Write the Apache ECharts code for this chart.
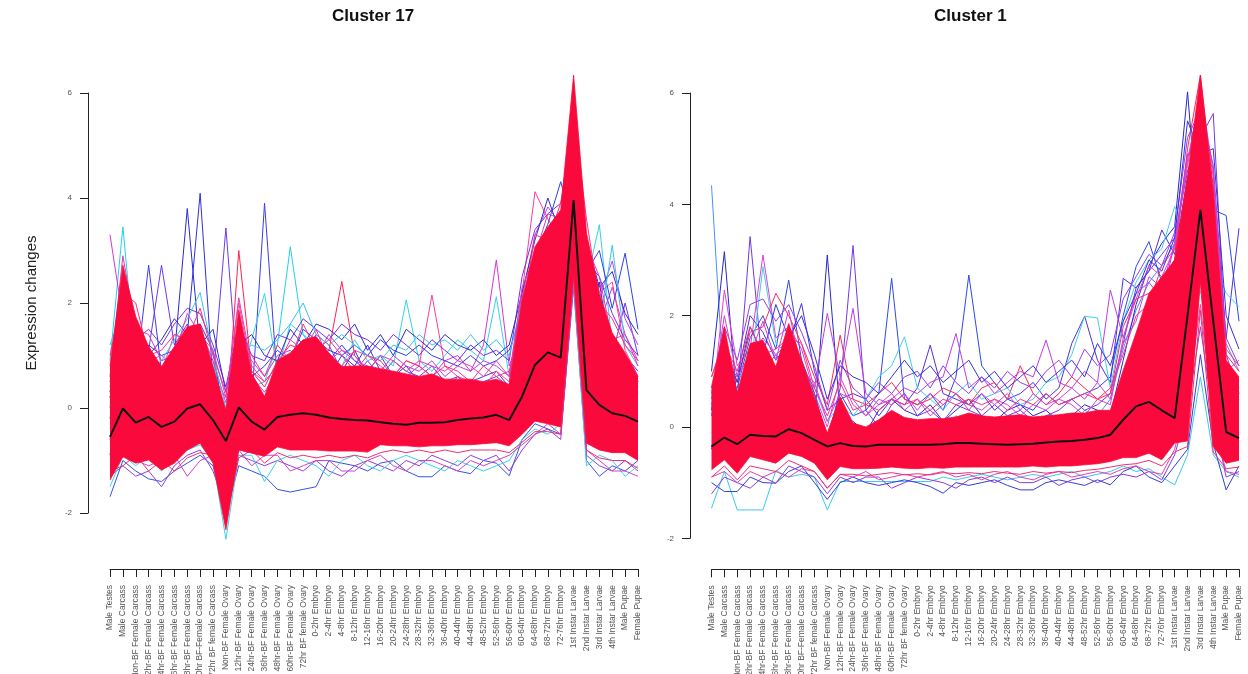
<!DOCTYPE html>
<html>
<head>
<meta charset="utf-8">
<title>Cluster expression profiles</title>
<script src="https://cdn.jsdelivr.net/npm/echarts@6/dist/echarts.min.js"></script>
<style>
  html, body { margin: 0; padding: 0; background: #ffffff; }
  #chart { width: 1248px; height: 674px; }
</style>
</head>
<body>
<div id="chart"></div>
<script>
// ---- developmental stages (x categories) ----
const stageLabels = [
  'Male Testes', 'Male Carcass',
  'Non-BF Female Carcass', '12hr-BF Female Carcass', '24hr-BF Female Carcass', '36hr-BF Female Carcass',
  '48hr-BF Female Carcass', '60hr BF-Female Carcass', '72hr BF female Carcass',
  'Non-BF Female Ovary', '12hr-BF Female Ovary', '24hr-BF Female Ovary', '36hr-BF Female Ovary',
  '48hr-BF Female Ovary', '60hr-BF Female Ovary', '72hr BF female Ovary',
  '0-2hr Embryo', '2-4hr Embryo', '4-8hr Embryo', '8-12hr Embryo', '12-16hr Embryo', '16-20hr Embryo',
  '20-24hr Embryo', '24-28hr Embryo', '28-32hr Embryo', '32-36hr Embryo', '36-40hr Embryo',
  '40-44hr Embryo', '44-48hr Embryo', '48-52hr Embryo', '52-56hr Embryo', '56-60hr Embryo',
  '60-64hr Embryo', '64-68hr Embryo', '68-72hr Embryo', '72-76hr Embryo',
  '1st Instar Larvae', '2nd Instar Larvae', '3rd Instar Larvae', '4th Instar Larvae',
  'Male Pupae', 'Female Pupae'
];
const panelTitles = ['Cluster 17', 'Cluster 1'];
const yAxisTitle = 'Expression changes';
const yTickMin = -2, yTickMax = 6, yTickStep = 2;

// ---- Cluster 17 ----
const c17Mean = [
  -0.55, -0.01, -0.28, -0.17, -0.36, -0.26, -0.01, 0.07, -0.23, -0.63,
  0.01, -0.26, -0.41, -0.17, -0.13, -0.10, -0.13, -0.18, -0.21, -0.23,
  -0.24, -0.27, -0.30, -0.32, -0.28, -0.28, -0.27, -0.23, -0.20, -0.18,
  -0.13, -0.23, 0.22, 0.82, 1.06, 0.96, 3.96, 0.34, 0.06, -0.10,
  -0.15, -0.26
];
// upper / lower edge of the dense core of high-membership genes
const c17CoreHigh = [
  0.80, 2.72, 1.74, 1.17, 0.79, 1.17, 1.55, 1.60, 0.79, -0.04,
  1.87, 0.66, 0.22, 0.91, 1.05, 1.30, 1.36, 1.05, 0.79, 0.80,
  0.80, 0.75, 0.70, 0.65, 0.60, 0.65, 0.55, 0.55, 0.55, 0.50,
  0.55, 0.45, 2.06, 3.07, 3.45, 3.77, 6.34, 3.33, 2.18, 1.43,
  1.05, 0.60
];
const c17CoreLow = [
  -1.37, -0.93, -1.05, -0.99, -1.18, -1.05, -0.80, -0.67, -1.05, -2.32,
  -0.80, -0.86, -0.92, -0.74, -0.80, -0.80, -0.80, -0.82, -0.82, -0.82,
  -0.84, -0.70, -0.72, -0.72, -0.74, -0.72, -0.72, -0.70, -0.70, -0.68,
  -0.66, -0.72, -0.50, -0.25, -0.30, -0.36, 2.57, -0.67, -0.80, -0.85,
  -0.85, -1.00
];
// individual genes with lower membership
const c17GeneM = [
  -1.69, -1.00, -1.20, -1.35, -1.40, -1.20, -1.05, -0.90, -1.10, -2.00,
  -1.10, -1.20, -1.30, -1.55, -1.60, -1.55, -1.50, -1.00, -1.05, -1.10,
  -1.20, -1.05, -1.00, -1.20, -1.31, -1.31, -1.10, -1.20, -1.25, -1.00,
  -1.05, -1.29, -0.60, -0.30, -0.40, -0.50, 2.30, -1.00, -1.30, -1.10,
  -1.20, -1.00
];
const c17GeneN = [
  -1.30, -1.10, -1.30, -1.20, -1.50, -1.10, -0.90, -0.80, -1.20, -1.90,
  -0.90, -1.00, -1.10, -1.00, -1.10, -1.20, -1.00, -1.20, -1.30, -1.10,
  -1.00, -1.10, -1.20, -1.00, -1.10, -0.90, -1.00, -1.10, -0.90, -1.00,
  -0.90, -1.20, -0.80, -0.50, -0.40, -0.60, 2.50, -0.90, -1.10, -1.20,
  -1.00, -1.20
];
const c17GeneO = [
  -1.50, -0.90, -1.10, -0.90, -1.20, -1.00, -0.80, -0.70, -1.00, -2.50,
  -0.90, -0.90, -1.40, -1.00, -0.90, -1.00, -1.10, -1.30, -1.00, -0.90,
  -1.10, -1.20, -1.00, -0.90, -1.00, -1.10, -1.20, -1.00, -1.10, -1.20,
  -1.10, -1.00, -0.60, -0.40, -0.50, -0.30, 2.40, -1.10, -0.90, -1.00,
  -1.30, -1.10
];
const c17GeneP = [
  -1.10, -0.80, -1.00, -1.10, -1.00, -0.90, -1.30, -1.00, -0.90, -1.60,
  -0.80, -1.10, -0.90, -0.90, -1.20, -1.10, -1.00, -1.00, -1.20, -1.20,
  -1.00, -0.90, -1.10, -1.20, -1.00, -1.00, -1.10, -1.20, -1.00, -1.10,
  -1.00, -0.90, -0.70, -0.50, -0.30, -0.50, 2.60, -0.80, -1.00, -1.20,
  -1.20, -1.30
];
const c17GeneA = [
  0.90, 3.45, 0.80, 0.40, 0.20, 0.50, 0.70, 0.90, 0.30, -0.50,
  0.80, 0.40, 0.50, 1.20, 3.07, 1.40, 1.00, 0.80, 0.60, 0.50,
  0.40, 0.30, 0.20, 0.30, 0.20, 0.10, 0.20, 0.30, 0.20, 0.40,
  0.50, 0.30, 1.60, 2.10, 2.40, 2.60, 5.20, 2.00, 1.20, 0.80,
  0.50, 0.30
];
const c17GeneB = [
  -0.20, 1.20, 0.40, 0.90, 0.50, 1.00, 3.80, 1.10, 0.40, -0.60,
  0.70, 0.20, -0.10, 0.30, 0.50, 0.40, 0.60, 0.50, 0.70, 1.10,
  0.60, 0.40, 0.60, 0.30, 0.50, 0.20, 0.40, 0.30, 0.10, 0.30,
  0.40, 0.20, 1.00, 2.00, 2.60, 2.20, 4.00, 1.50, 2.40, 0.80,
  0.40, 0.20
];
const c17GeneC = [
  0.30, 1.80, 0.20, 1.00, 0.40, 0.60, 1.40, 4.09, 0.50, -0.90,
  0.40, -0.30, -0.50, 0.20, 0.60, 0.90, 0.80, 0.60, 1.00, 0.80,
  1.20, 0.70, 0.50, 0.40, 0.30, 0.50, 0.30, 0.60, 0.40, 0.20,
  0.30, 0.10, 1.30, 2.60, 3.00, 2.40, 3.00, 1.10, 0.60, 0.40,
  0.90, 0.50
];
const c17GeneD = [
  -0.60, 0.80, 0.60, 2.72, 0.70, 0.90, 1.20, 1.30, 0.60, -0.80,
  0.40, 0.10, 3.90, 0.50, 0.40, 0.80, 0.70, 0.90, 1.20, 0.90,
  0.70, 1.00, 0.60, 0.80, 0.50, 0.60, 0.40, 0.30, 0.50, 0.60,
  0.70, 0.40, 1.70, 2.80, 3.30, 3.60, 3.20, 2.90, 1.70, 1.30,
  1.00, 0.70
];
const c17GeneE = [
  0.20, 1.00, 0.90, 1.10, 2.72, 1.20, 1.60, 0.90, 0.50, 3.43,
  0.30, 0.40, 0.20, 0.60, 0.90, 1.00, 1.40, 1.20, 0.70, 0.60,
  0.90, 0.60, 0.90, 0.70, 0.60, 0.80, 0.50, 0.60, 0.40, 0.50,
  0.60, 0.40, 1.40, 2.20, 2.90, 3.10, 4.60, 2.40, 1.90, 1.00,
  2.00, 1.00
];
const c17GeneF = [
  0.40, 1.40, 0.90, 0.60, 0.30, 0.80, 1.00, 0.90, 0.40, -0.40,
  3.00, 0.70, 0.40, 0.90, 1.20, 1.10, 0.90, 1.10, 2.41, 1.00,
  0.70, 0.50, 0.40, 0.60, 0.50, 0.30, 0.50, 0.40, 0.30, 0.20,
  0.50, 0.30, 1.90, 2.70, 3.10, 3.40, 5.80, 3.00, 2.00, 1.30,
  0.80, 0.40
];
const c17GeneG = [
  3.30, 1.70, 0.80, 1.20, 0.50, 0.90, 1.10, 1.30, 0.70, -0.30,
  1.10, 0.60, 0.30, 0.70, 0.90, 1.20, 0.90, 0.70, 0.50, 0.80,
  0.60, 0.50, 0.70, 0.60, 0.80, 0.60, 0.90, 1.00, 0.70, 1.20,
  2.82, 0.80, 1.50, 2.50, 3.20, 3.50, 5.50, 2.70, 1.60, 2.30,
  1.40, 0.90
];
const c17GeneH = [
  0.10, 0.90, 0.30, 0.50, 0.20, 0.40, 0.60, 0.80, 0.90, -0.20,
  0.50, 1.30, 2.18, 0.70, 1.60, 1.40, 1.20, 1.00, 0.80, 1.30,
  0.90, 1.00, 0.80, 2.06, 0.90, 0.70, 1.00, 1.30, 1.10, 0.90,
  2.12, 0.60, 1.80, 3.00, 3.40, 3.70, 4.20, 2.40, 3.49, 1.20,
  0.70, 0.30
];
const c17GeneI = [
  0.00, 2.40, 1.40, 0.80, 0.70, 1.40, 1.30, 1.00, 0.60, 0.20,
  2.00, 0.70, 0.50, 0.80, 1.00, 1.30, 1.10, 0.90, 0.80, 1.10,
  1.00, 0.80, 0.60, 0.90, 0.80, 2.15, 0.80, 0.60, 0.50, 0.40,
  0.70, 0.50, 2.20, 4.12, 3.60, 3.20, 6.00, 3.20, 2.20, 2.40,
  1.10, 0.60
];
const c17GeneJ = [
  -0.90, 0.90, 0.50, 1.20, 1.00, 1.10, 1.50, 1.60, 1.10, -0.40,
  0.90, 0.60, 0.80, 1.10, 0.90, 1.50, 1.30, 1.10, 1.00, 1.20,
  1.00, 1.30, 1.10, 1.00, 1.20, 1.00, 0.90, 0.80, 1.00, 0.80,
  0.90, 1.10, 1.80, 2.90, 3.50, 4.31, 3.40, 2.60, 3.00, 1.90,
  2.95, 1.50
];
const c17GeneK = [
  0.60, 1.20, 1.10, 0.90, 1.00, 0.80, 1.20, 1.50, 0.90, 0.10,
  1.40, 0.90, 0.60, 1.00, 1.10, 0.80, 1.00, 1.40, 1.10, 0.90,
  0.80, 0.70, 1.00, 0.80, 0.70, 0.90, 0.60, 0.80, 0.70, 0.90,
  0.80, 0.60, 2.10, 3.30, 3.83, 3.50, 5.30, 2.50, 2.10, 2.80,
  1.70, 1.20
];
const c17GeneQ = [
  0.50, 1.60, 1.30, 1.50, 1.20, 1.60, 1.90, 1.80, 1.20, 0.40,
  1.60, 1.00, 0.90, 1.40, 1.30, 1.70, 1.50, 1.30, 1.60, 1.40,
  1.30, 1.10, 1.40, 1.20, 1.00, 1.30, 1.10, 0.90, 1.20, 1.00,
  1.10, 0.90, 2.50, 3.40, 3.70, 3.90, 4.90, 2.80, 2.50, 1.80,
  1.30, 1.00
];
const c17GeneR = [
  0.20, 1.30, 1.50, 1.00, 1.30, 1.70, 1.40, 1.20, 1.50, 0.30,
  1.20, 1.40, 1.00, 0.90, 1.50, 1.20, 1.60, 1.50, 1.30, 1.60,
  1.10, 1.40, 1.00, 1.50, 1.30, 1.10, 1.40, 1.20, 1.10, 1.30,
  1.00, 1.20, 2.20, 3.20, 4.00, 3.30, 4.40, 3.20, 2.30, 2.60,
  1.80, 1.40
];
const c17GeneS = [
  1.20, 1.90, 1.10, 0.70, 0.90, 1.30, 1.70, 2.20, 1.00, 0.00,
  1.00, 1.20, 1.10, 1.30, 1.60, 2.00, 1.40, 1.20, 1.40, 1.20,
  1.00, 0.90, 1.20, 1.10, 1.40, 1.20, 1.30, 1.10, 1.40, 1.10,
  1.30, 1.00, 2.00, 2.80, 3.20, 3.00, 3.60, 2.10, 1.50, 3.10,
  1.20, 0.80
];
const c17GeneT = [
  1.00, 2.20, 2.00, 1.00, 1.10, 1.40, 1.30, 1.90, 1.00, 0.30,
  1.50, 1.00, 0.60, 1.20, 0.90, 1.60, 1.10, 1.30, 1.00, 0.70,
  1.00, 0.90, 0.60, 0.90, 0.80, 0.60, 0.80, 0.70, 0.50, 0.80,
  0.60, 0.70, 1.80, 3.30, 3.20, 3.90, 5.60, 3.60, 2.00, 1.70,
  1.20, 0.90
];
const c17GeneU = [
  0.60, 2.90, 1.50, 1.40, 0.90, 1.00, 1.80, 1.40, 1.10, 0.20,
  2.10, 0.80, 0.50, 0.80, 1.30, 1.10, 1.50, 0.90, 1.10, 1.00,
  0.70, 1.00, 0.90, 0.70, 0.90, 0.80, 0.70, 0.90, 0.80, 0.60,
  0.90, 0.60, 2.30, 2.90, 3.70, 3.60, 6.10, 3.10, 2.50, 1.30,
  1.40, 0.80
];
const c17GeneV = [
  -1.20, -1.10, -0.90, -1.20, -1.00, -1.20, -0.95, -0.85, -0.90, -2.10,
  -0.95, -0.80, -1.05, -0.85, -0.95, -0.90, -0.95, -0.90, -0.95, -0.90,
  -0.95, -0.85, -0.80, -0.85, -0.80, -0.85, -0.80, -0.85, -0.80, -0.80,
  -0.80, -0.85, -0.65, -0.45, -0.45, -0.50, 2.45, -0.80, -0.95, -1.00,
  -1.00, -1.15
];

// ---- Cluster 1 ----
const c1Mean = [
  -0.35, -0.19, -0.31, -0.14, -0.16, -0.17, -0.04, -0.11, -0.23, -0.35,
  -0.29, -0.34, -0.35, -0.32, -0.32, -0.32, -0.32, -0.32, -0.31, -0.29,
  -0.29, -0.30, -0.31, -0.32, -0.31, -0.30, -0.28, -0.26, -0.25, -0.23,
  -0.20, -0.14, 0.13, 0.37, 0.45, 0.30, 0.16, 2.00, 3.90, 1.90,
  -0.09, -0.20
];
const c1CoreHigh = [
  0.72, 1.80, 0.60, 1.50, 1.56, 1.08, 1.86, 1.20, 0.54, -0.11,
  0.54, 0.07, 0.00, 0.13, 0.30, 0.17, 0.13, 0.15, 0.15, 0.18,
  0.25, 0.20, 0.18, 0.20, 0.22, 0.18, 0.20, 0.22, 0.25, 0.25,
  0.30, 0.30, 1.02, 1.69, 2.40, 2.70, 3.00, 4.50, 6.32, 4.20,
  1.20, 0.90
];
const c1CoreLow = [
  -0.77, -0.59, -0.83, -0.53, -0.59, -0.65, -0.47, -0.53, -0.65, -0.95,
  -0.71, -0.75, -0.75, -0.74, -0.72, -0.74, -0.75, -0.73, -0.74, -0.72,
  -0.72, -0.72, -0.72, -0.72, -0.72, -0.70, -0.72, -0.70, -0.70, -0.68,
  -0.66, -0.62, -0.55, -0.55, -0.47, -0.59, -0.29, -0.25, 2.60, -0.35,
  -0.65, -0.60
];
const c1GeneM = [
  -1.46, -0.80, -1.49, -1.49, -1.49, -0.78, -0.90, -0.85, -0.90, -1.49,
  -0.98, -0.98, -0.98, -0.98, -0.98, -0.98, -0.98, -0.98, -0.90, -0.95,
  -0.90, -0.85, -0.90, -0.95, -0.90, -0.85, -0.90, -0.85, -0.80, -0.90,
  -0.85, -0.80, -0.70, -0.80, -0.75, -0.90, -1.04, -0.50, 0.90, -0.50,
  -0.80, -0.90
];
const c1GeneN = [
  -1.00, -1.16, -1.16, -0.90, -1.00, -1.01, -0.80, -0.70, -1.00, -1.30,
  -1.00, -0.90, -1.00, -1.05, -1.00, -0.95, -1.00, -1.07, -1.19, -1.00,
  -1.05, -1.00, -0.95, -1.05, -1.13, -1.13, -1.00, -0.95, -1.00, -1.05,
  -0.95, -1.04, -0.80, -0.70, -0.90, -1.00, -0.70, -0.40, 1.30, -0.30,
  -1.13, -0.70
];
const c1GeneO = [
  -1.20, -0.90, -1.00, -1.10, -0.90, -1.01, -0.70, -0.80, -0.90, -1.20,
  -0.90, -1.00, -0.90, -0.90, -1.10, -1.00, -0.90, -0.95, -1.00, -1.10,
  -0.95, -0.90, -1.00, -0.90, -1.00, -1.00, -0.90, -1.05, -0.95, -0.90,
  -1.00, -0.90, -0.85, -0.90, -0.80, -0.95, -0.50, 0.30, 1.80, 0.20,
  -0.90, -0.80
];
const c1GeneP = [
  -0.90, -0.80, -1.00, -0.80, -0.90, -0.80, -0.90, -0.75, -0.80, -1.10,
  -0.85, -0.90, -0.80, -0.95, -0.90, -0.85, -0.90, -0.85, -0.80, -0.90,
  -0.85, -0.95, -0.85, -0.80, -0.90, -0.95, -0.85, -0.80, -0.90, -0.85,
  -0.80, -0.85, -0.75, -0.70, -0.80, -0.85, -0.40, 0.50, 2.20, 0.10,
  -0.80, -0.85
];
const c1GeneA = [
  4.34, 0.60, -0.30, 0.40, 0.90, 0.50, 0.80, 0.30, -0.10, -0.60,
  0.00, -0.20, -0.30, -0.10, 0.20, 0.00, -0.10, 0.10, 0.00, 0.20,
  0.10, 0.00, -0.10, 0.10, 0.00, -0.20, 0.10, 0.20, 0.00, 0.30,
  0.20, 0.50, 1.40, 2.10, 2.60, 2.90, 3.30, 4.90, 5.00, 4.40,
  1.50, 1.00
];
const c1GeneB = [
  1.00, 3.15, 0.40, 1.20, 1.50, 1.00, 1.30, 0.80, 0.10, 3.09,
  0.20, 0.10, -0.10, 0.30, 0.50, 0.30, 0.20, 0.40, 0.10, 0.30,
  0.50, 0.20, 0.10, 0.30, 0.40, 0.20, 0.30, 0.10, 0.20, 0.40,
  0.30, 0.20, 1.20, 2.20, 2.90, 3.30, 3.60, 6.02, 3.20, 2.40,
  0.80, 0.50
];
const c1GeneC = [
  0.20, 1.30, 0.50, 3.42, 1.00, 1.30, 1.00, 0.90, 0.40, -0.30,
  0.70, 3.26, 0.30, 0.00, 0.40, 0.60, 0.20, 0.30, 0.10, 0.40,
  0.30, 0.20, 0.40, 0.20, 0.30, 0.10, 0.20, 0.30, 0.50, 0.30,
  0.40, 0.60, 1.50, 2.50, 2.80, 3.10, 3.40, 4.60, 5.20, 5.63,
  1.30, 0.60
];
const c1GeneD = [
  0.30, 2.46, 1.10, 1.40, 3.09, 1.60, 1.80, 1.40, 0.60, 0.00,
  0.90, 0.40, 0.20, 0.40, 0.60, 0.30, 0.50, 0.20, 0.40, 0.60,
  0.40, 0.30, 0.50, 0.40, 0.20, 0.40, 0.30, 0.50, 0.40, 0.20,
  0.50, 0.40, 1.60, 2.30, 2.90, 2.70, 3.20, 4.30, 5.40, 4.10,
  1.10, 0.70
];
const c1GeneE = [
  -0.40, 0.90, 0.70, 1.60, 2.00, 1.40, 2.64, 1.20, 0.60, -0.20,
  0.60, 0.20, 0.30, 0.60, 2.67, 0.50, 0.40, 0.60, 0.30, 0.90,
  2.73, 1.10, 0.79, 0.50, 0.40, 0.30, 0.60, 0.40, 0.50, 0.60,
  0.70, 0.90, 2.00, 2.88, 3.33, 2.60, 3.00, 4.00, 4.60, 3.90,
  3.80, 1.90
];
const c1GeneF = [
  0.70, 1.20, 0.90, 2.00, 1.70, 1.20, 1.50, 2.22, 1.00, 0.30,
  0.50, 0.60, 0.50, 0.20, 0.50, 0.40, 0.70, 1.47, 0.60, 0.50,
  0.40, 0.60, 0.30, 0.50, 0.60, 0.80, 0.50, 0.70, 1.50, 1.99,
  1.20, 0.80, 2.67, 2.50, 2.80, 3.54, 3.10, 4.50, 4.80, 4.30,
  1.60, 3.57
];
const c1GeneG = [
  0.90, 1.60, 0.80, 1.70, 1.80, 2.40, 2.00, 1.50, 0.90, 0.40,
  1.65, 0.50, 0.40, 0.60, 0.80, 0.50, 0.40, 0.50, 0.70, 0.60,
  0.40, 0.70, 0.80, 0.50, 1.10, 0.60, 0.40, 0.60, 0.90, 0.70,
  0.50, 0.60, 1.80, 2.30, 2.40, 2.60, 3.00, 5.00, 6.32, 4.30,
  1.30, 1.00
];
const c1GeneH = [
  0.50, 1.10, 0.90, 1.00, 2.88, 1.50, 1.30, 1.00, 0.70, 0.10,
  0.40, 0.20, 0.50, 0.90, 1.10, 1.62, 0.70, 0.50, 0.30, 0.60,
  0.80, 0.50, 0.60, 0.70, 0.40, 0.50, 0.80, 0.90, 1.30, 1.99,
  1.96, 0.70, 1.90, 2.60, 3.00, 3.20, 3.96, 3.50, 2.40, 3.00,
  2.40, 2.16
];
const c1GeneI = [
  0.40, 1.50, 0.60, 1.30, 1.60, 1.30, 1.50, 1.10, 0.70, 2.04,
  0.90, 2.13, 0.60, 0.40, 0.50, 0.70, 0.60, 0.80, 0.90, 1.68,
  0.70, 0.90, 0.60, 0.80, 1.00, 0.90, 1.56, 0.80, 0.70, 1.00,
  0.80, 2.46, 1.60, 2.40, 2.60, 2.30, 3.30, 4.90, 5.10, 3.70,
  1.00, 0.80
];
const c1GeneQ = [
  0.60, 1.80, 1.20, 2.20, 2.30, 1.90, 2.20, 1.70, 1.10, 0.30,
  1.20, 0.70, 0.50, 0.80, 0.60, 0.90, 1.00, 0.70, 1.10, 0.80,
  0.60, 0.90, 0.70, 1.00, 0.80, 0.70, 1.00, 1.20, 0.90, 1.40,
  1.10, 1.30, 2.30, 2.70, 3.10, 2.90, 3.50, 5.20, 5.70, 4.70,
  1.60, 1.10
];
const c1GeneR = [
  0.30, 1.40, 0.80, 1.80, 1.30, 2.20, 1.60, 2.00, 1.30, 0.50,
  1.10, 0.90, 0.80, 0.60, 0.90, 1.20, 0.90, 1.10, 0.80, 1.00,
  1.20, 0.80, 1.00, 0.70, 0.90, 1.10, 0.80, 1.00, 1.20, 0.90,
  1.50, 1.10, 1.90, 2.40, 3.00, 2.80, 3.40, 5.50, 4.90, 5.00,
  2.00, 1.40
];
const c1GeneT = [
  0.90, 1.50, 1.00, 1.80, 1.30, 1.40, 1.60, 1.50, 0.70, 0.20,
  0.80, 0.30, 0.40, 0.30, 0.50, 0.40, 0.50, 0.30, 0.50, 0.40,
  0.50, 0.40, 0.50, 0.30, 0.50, 0.40, 0.60, 0.40, 0.50, 0.60,
  0.50, 0.70, 1.30, 2.00, 2.20, 2.90, 3.20, 4.80, 5.90, 4.50,
  1.40, 1.10
];
const c1GeneU = [
  0.50, 2.00, 0.90, 1.30, 1.90, 1.20, 2.10, 1.00, 0.80, 0.10,
  0.60, 0.50, 0.20, 0.50, 0.40, 0.60, 0.30, 0.60, 0.40, 0.60,
  0.30, 0.60, 0.40, 0.60, 0.30, 0.60, 0.40, 0.50, 0.70, 0.50,
  0.80, 0.50, 1.50, 1.90, 2.70, 2.50, 3.30, 4.70, 6.00, 4.60,
  1.00, 1.20
];
const c1GeneV = [
  -0.90, -0.70, -0.95, -0.70, -0.75, -0.80, -0.60, -0.70, -0.80, -1.10,
  -0.85, -0.85, -0.88, -0.85, -0.82, -0.86, -0.84, -0.86, -0.82, -0.84,
  -0.82, -0.84, -0.80, -0.83, -0.85, -0.80, -0.83, -0.80, -0.82, -0.78,
  -0.76, -0.72, -0.68, -0.66, -0.60, -0.70, -0.45, -0.35, 2.10, -0.45,
  -0.75, -0.72
];

// ---- drawing ----
const FONT = '"Liberation Sans", Arial, Helvetica, sans-serif';
const CORE_RED = '#fa0a3c';

// membership colour ramp: cyan -> blue -> purple -> magenta -> red
const c17Genes = [
  [c17GeneM, '#3a50e0'], [c17GeneN, '#8f3fe0'], [c17GeneO, '#3cd2ee'], [c17GeneP, '#d83fc6'],
  [c17GeneA, '#22d0e8'], [c17GeneB, '#2a2ad0'], [c17GeneC, '#3030e0'], [c17GeneD, '#3c3cf0'],
  [c17GeneE, '#6a3af0'], [c17GeneF, '#ff2252'], [c17GeneG, '#d633d6'], [c17GeneH, '#30d6e4'],
  [c17GeneI, '#ff3c9a'], [c17GeneJ, '#2d40e8'], [c17GeneK, '#c040e0'], [c17GeneQ, '#7a2ee8'],
  [c17GeneR, '#2b30c8'], [c17GeneS, '#38c4f0'], [c17GeneT, '#ff3080'], [c17GeneU, '#e03cb4'],
  [c17GeneV, '#f03070']
];
const c1Genes = [
  [c1GeneM, '#3cc8f0'], [c1GeneN, '#2f3fd8'], [c1GeneO, '#8a3ce0'], [c1GeneP, '#e040b8'],
  [c1GeneA, '#4a90f0'], [c1GeneB, '#2828c8'], [c1GeneC, '#7038e8'], [c1GeneD, '#e040d0'],
  [c1GeneE, '#3048e8'], [c1GeneF, '#5030d8'], [c1GeneG, '#ff2a55'], [c1GeneH, '#40d0ea'],
  [c1GeneI, '#c03ce0'], [c1GeneQ, '#9a3cea'], [c1GeneR, '#3333dd'], [c1GeneT, '#ff3080'],
  [c1GeneU, '#d040d8'], [c1GeneV, '#f03070']
];

function panelSeries(idx, genes, coreLow, coreHigh, mean) {
  const out = [];
  genes.forEach(([vals, color]) => {
    out.push({
      type: 'line', xAxisIndex: idx, yAxisIndex: idx, data: vals,
      symbol: 'none', clip: false, silent: true, z: 2,
      lineStyle: { color: color, width: 1 }
    });
  });
  // dense core drawn as a band between its lower and upper edges
  out.push({
    type: 'line', xAxisIndex: idx, yAxisIndex: idx, data: coreLow,
    stack: 'core' + idx, stackStrategy: 'all',
    symbol: 'none', clip: false, silent: true, z: 3,
    lineStyle: { width: 0.8, color: CORE_RED }
  });
  out.push({
    type: 'line', xAxisIndex: idx, yAxisIndex: idx,
    data: coreHigh.map((h, i) => +(h - coreLow[i]).toFixed(3)),
    stack: 'core' + idx, stackStrategy: 'all',
    symbol: 'none', clip: false, silent: true, z: 3,
    lineStyle: { width: 0.8, color: CORE_RED },
    areaStyle: { color: CORE_RED, opacity: 1 }
  });
  out.push({
    type: 'line', xAxisIndex: idx, yAxisIndex: idx, data: mean,
    symbol: 'none', clip: false, silent: true, z: 4,
    lineStyle: { color: '#111111', width: 2 }
  });
  return out;
}

function xAxisFor(idx, offset) {
  return {
    gridIndex: idx, type: 'category', data: stageLabels, boundaryGap: false,
    position: 'bottom', offset: offset,
    axisLine: { show: true, onZero: false, lineStyle: { color: '#222', width: 1 } },
    axisTick: { show: true, interval: 0, length: 8, lineStyle: { color: '#222', width: 1 } },
    axisLabel: { interval: 0, rotate: 90, fontSize: 8.5, color: '#555', margin: 16, fontFamily: FONT },
    splitLine: { show: false }
  };
}
function yAxisFor(idx, offset, withName) {
  const ax = {
    gridIndex: idx, type: 'value', min: yTickMin, max: yTickMax, interval: yTickStep, offset: offset,
    axisLine: { show: true, onZero: false, lineStyle: { color: '#222', width: 1 } },
    axisTick: { show: true, length: 8, lineStyle: { color: '#222', width: 1 } },
    axisLabel: { fontSize: 8, color: '#555', margin: 16, fontFamily: FONT },
    splitLine: { show: false }
  };
  if (withName) {
    ax.name = yAxisTitle;
    ax.nameLocation = 'middle';
    ax.nameGap = 49;
    ax.nameTextStyle = { fontSize: 15, color: '#222', fontFamily: FONT };
  }
  return ax;
}

const chart = echarts.init(document.getElementById('chart'), null, { renderer: 'canvas' });
chart.setOption({
  animation: false,
  backgroundColor: '#ffffff',
  title: [
    { text: panelTitles[0], left: 332, top: 8, padding: 0,
      textStyle: { fontSize: 17, fontWeight: 'bold', color: '#111', fontFamily: FONT } },
    { text: panelTitles[1], left: 934, top: 8, padding: 0,
      textStyle: { fontSize: 17, fontWeight: 'bold', color: '#111', fontFamily: FONT } }
  ],
  grid: [
    { left: 110, top: 93, width: 528, height: 420, containLabel: false, outerBoundsMode: 'none' },
    { left: 711.5, top: 93, width: 527.5, height: 445.3, containLabel: false, outerBoundsMode: 'none' }
  ],
  xAxis: [xAxisFor(0, 56), xAxisFor(1, 31)],
  yAxis: [yAxisFor(0, 22, true), yAxisFor(1, 21.5, false)],
  series: [
    ...panelSeries(0, c17Genes, c17CoreLow, c17CoreHigh, c17Mean),
    ...panelSeries(1, c1Genes, c1CoreLow, c1CoreHigh, c1Mean)
  ]
});
</script>
</body>
</html>
